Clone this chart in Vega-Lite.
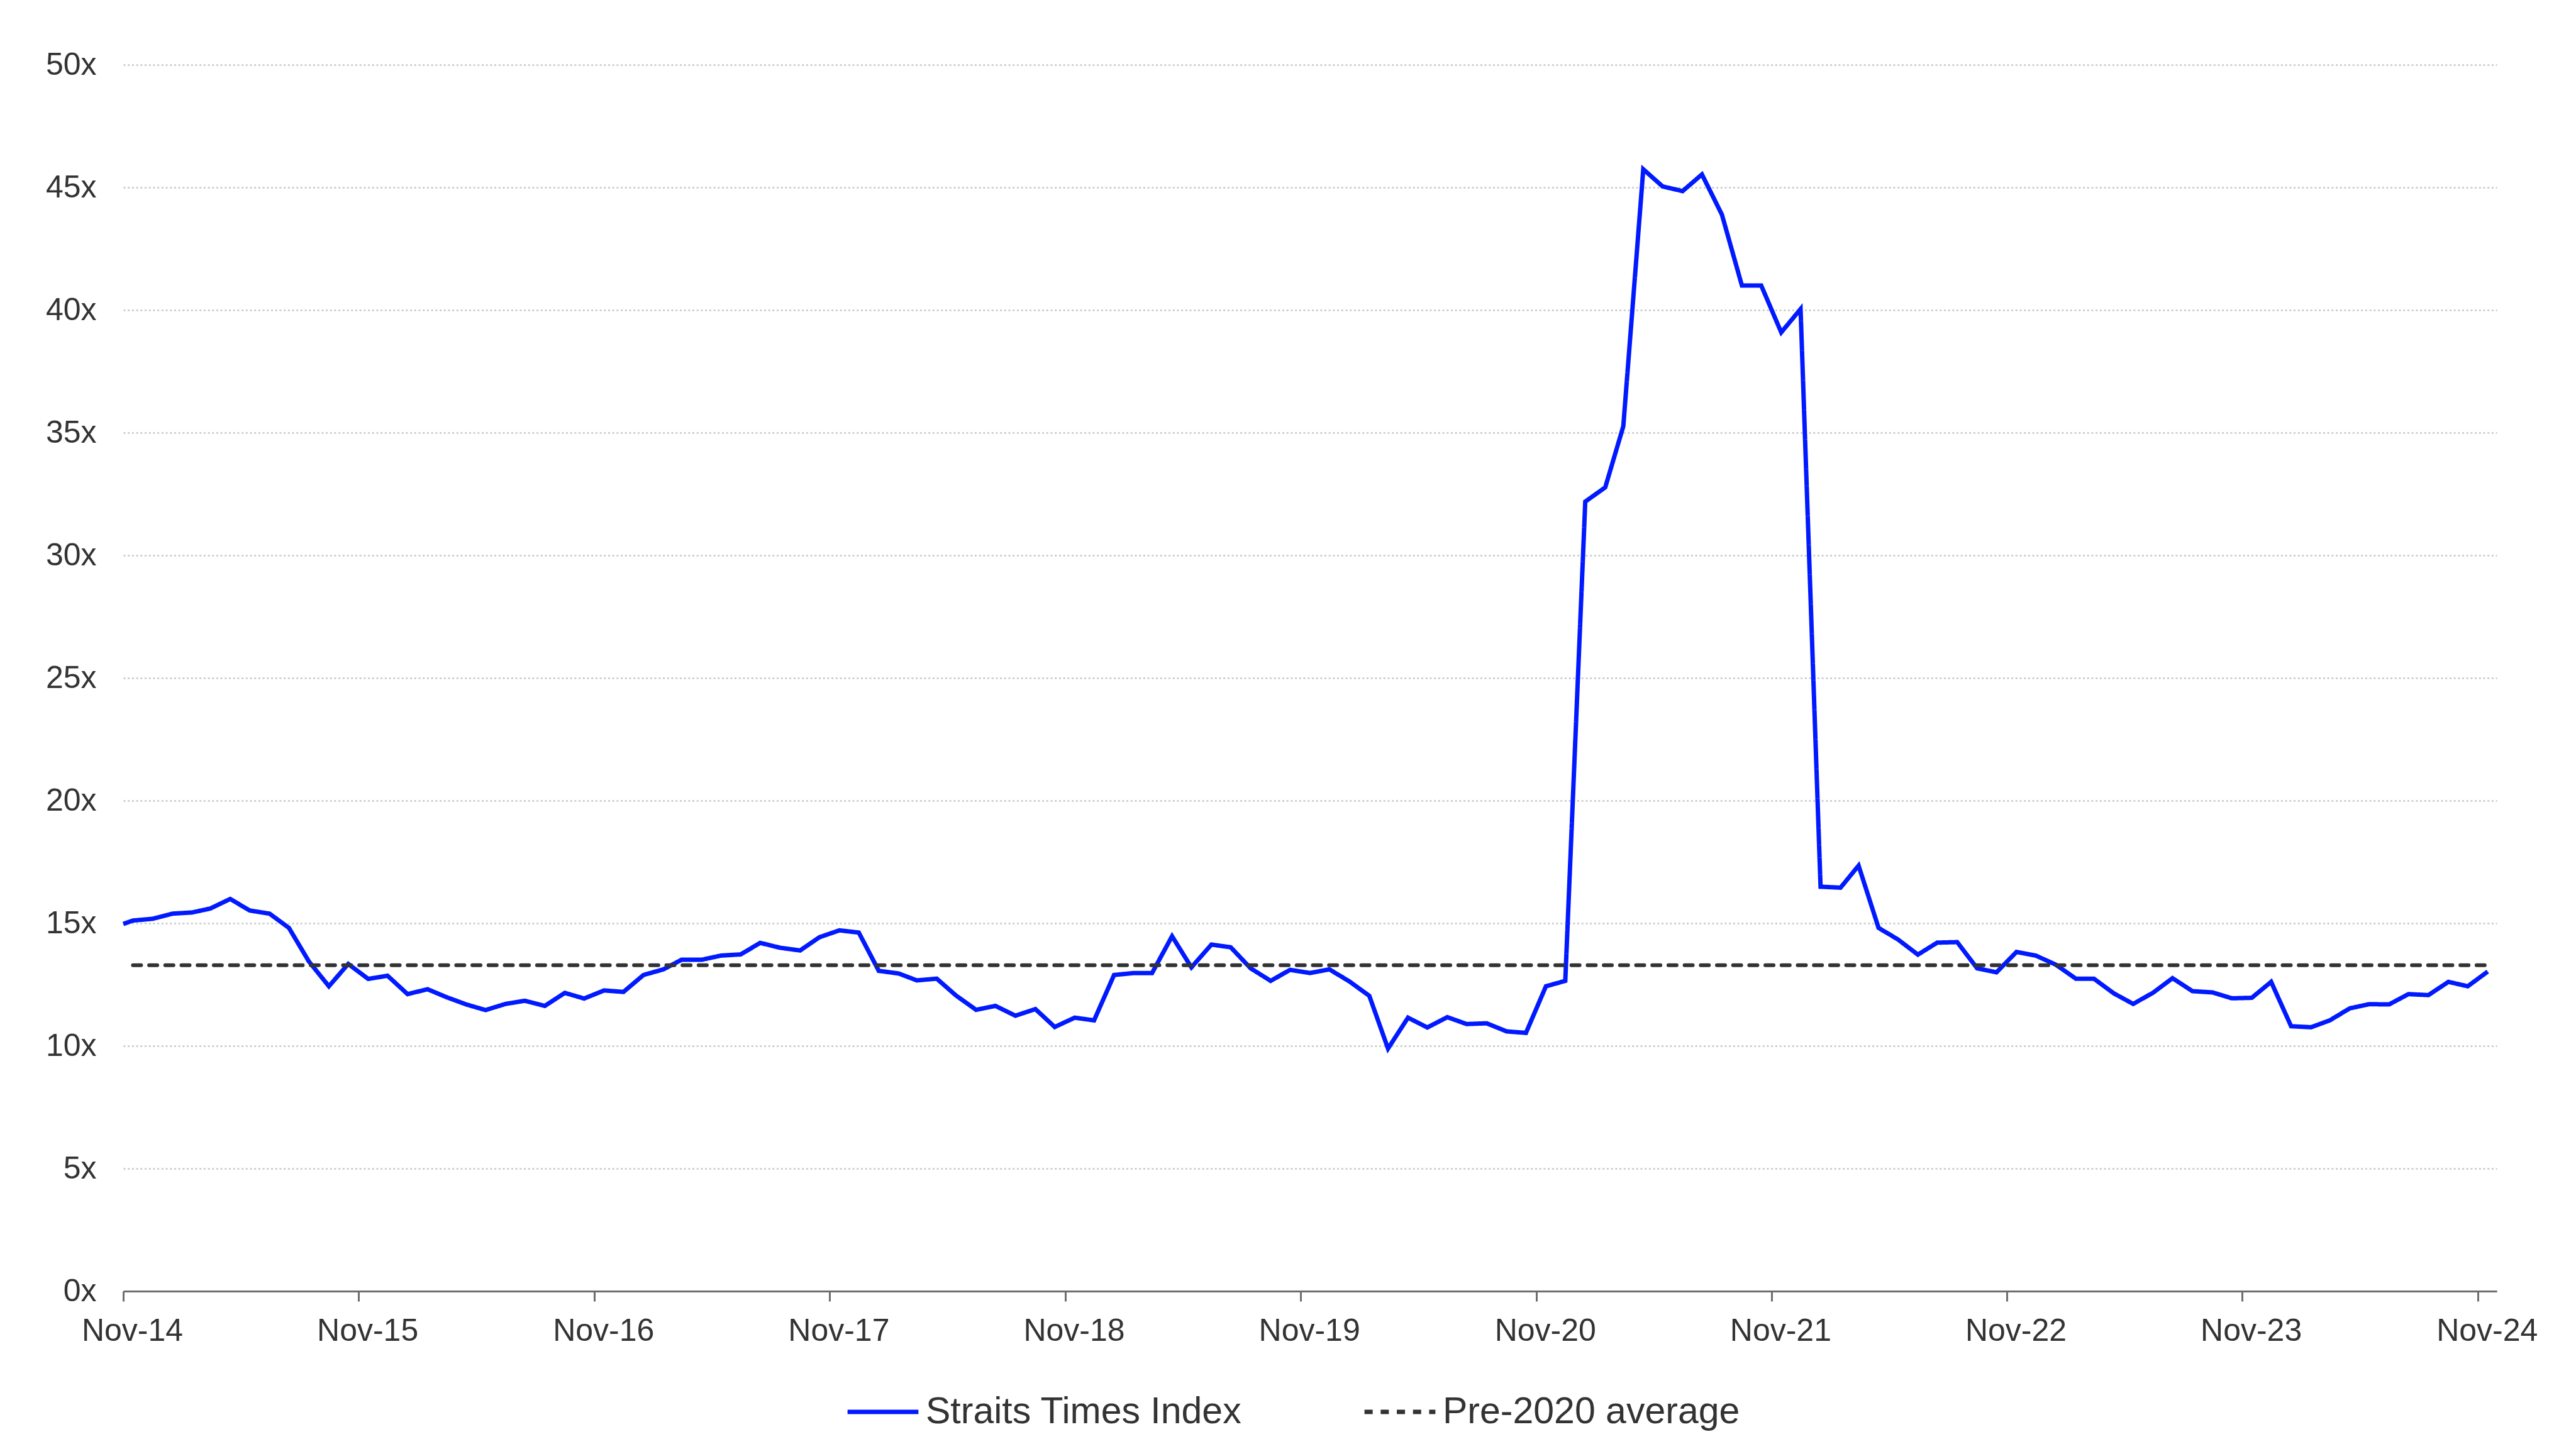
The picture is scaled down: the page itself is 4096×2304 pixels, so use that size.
{
  "$schema": "https://vega.github.io/schema/vega-lite/v6.json",
  "width": 3774,
  "height": 1950,
  "autosize": {"type": "none"},
  "padding": {"left": 196, "top": 103, "right": 126, "bottom": 251},
  "background": "white",
  "data": {
    "values": [
      {"d": "2014-11-01", "sti": 14.97},
      {"d": "2014-11-16", "sti": 15.11, "avg": 13.29},
      {"d": "2014-12-16", "sti": 15.18, "avg": 13.29},
      {"d": "2015-01-16", "sti": 15.39, "avg": 13.29},
      {"d": "2015-02-16", "sti": 15.44, "avg": 13.29},
      {"d": "2015-03-16", "sti": 15.60, "avg": 13.29},
      {"d": "2015-04-16", "sti": 15.99, "avg": 13.29},
      {"d": "2015-05-16", "sti": 15.52, "avg": 13.29},
      {"d": "2015-06-16", "sti": 15.39, "avg": 13.29},
      {"d": "2015-07-16", "sti": 14.81, "avg": 13.29},
      {"d": "2015-08-16", "sti": 13.44, "avg": 13.29},
      {"d": "2015-09-16", "sti": 12.43, "avg": 13.29},
      {"d": "2015-10-16", "sti": 13.34, "avg": 13.29},
      {"d": "2015-11-16", "sti": 12.73, "avg": 13.29},
      {"d": "2015-12-16", "sti": 12.86, "avg": 13.29},
      {"d": "2016-01-16", "sti": 12.11, "avg": 13.29},
      {"d": "2016-02-16", "sti": 12.31, "avg": 13.29},
      {"d": "2016-03-16", "sti": 11.99, "avg": 13.29},
      {"d": "2016-04-16", "sti": 11.69, "avg": 13.29},
      {"d": "2016-05-16", "sti": 11.46, "avg": 13.29},
      {"d": "2016-06-16", "sti": 11.71, "avg": 13.29},
      {"d": "2016-07-16", "sti": 11.84, "avg": 13.29},
      {"d": "2016-08-16", "sti": 11.63, "avg": 13.29},
      {"d": "2016-09-16", "sti": 12.16, "avg": 13.29},
      {"d": "2016-10-16", "sti": 11.93, "avg": 13.29},
      {"d": "2016-11-16", "sti": 12.26, "avg": 13.29},
      {"d": "2016-12-16", "sti": 12.20, "avg": 13.29},
      {"d": "2017-01-16", "sti": 12.89, "avg": 13.29},
      {"d": "2017-02-16", "sti": 13.12, "avg": 13.29},
      {"d": "2017-03-16", "sti": 13.51, "avg": 13.29},
      {"d": "2017-04-16", "sti": 13.51, "avg": 13.29},
      {"d": "2017-05-16", "sti": 13.68, "avg": 13.29},
      {"d": "2017-06-16", "sti": 13.73, "avg": 13.29},
      {"d": "2017-07-16", "sti": 14.20, "avg": 13.29},
      {"d": "2017-08-16", "sti": 14.00, "avg": 13.29},
      {"d": "2017-09-16", "sti": 13.89, "avg": 13.29},
      {"d": "2017-10-16", "sti": 14.43, "avg": 13.29},
      {"d": "2017-11-16", "sti": 14.71, "avg": 13.29},
      {"d": "2017-12-16", "sti": 14.62, "avg": 13.29},
      {"d": "2018-01-16", "sti": 13.06, "avg": 13.29},
      {"d": "2018-02-16", "sti": 12.95, "avg": 13.29},
      {"d": "2018-03-16", "sti": 12.67, "avg": 13.29},
      {"d": "2018-04-16", "sti": 12.74, "avg": 13.29},
      {"d": "2018-05-16", "sti": 12.05, "avg": 13.29},
      {"d": "2018-06-16", "sti": 11.47, "avg": 13.29},
      {"d": "2018-07-16", "sti": 11.63, "avg": 13.29},
      {"d": "2018-08-16", "sti": 11.23, "avg": 13.29},
      {"d": "2018-09-16", "sti": 11.50, "avg": 13.29},
      {"d": "2018-10-16", "sti": 10.77, "avg": 13.29},
      {"d": "2018-11-16", "sti": 11.15, "avg": 13.29},
      {"d": "2018-12-16", "sti": 11.04, "avg": 13.29},
      {"d": "2019-01-16", "sti": 12.89, "avg": 13.29},
      {"d": "2019-02-16", "sti": 12.97, "avg": 13.29},
      {"d": "2019-03-16", "sti": 12.97, "avg": 13.29},
      {"d": "2019-04-16", "sti": 14.47, "avg": 13.29},
      {"d": "2019-05-16", "sti": 13.20, "avg": 13.29},
      {"d": "2019-06-16", "sti": 14.13, "avg": 13.29},
      {"d": "2019-07-16", "sti": 14.02, "avg": 13.29},
      {"d": "2019-08-16", "sti": 13.16, "avg": 13.29},
      {"d": "2019-09-16", "sti": 12.65, "avg": 13.29},
      {"d": "2019-10-16", "sti": 13.10, "avg": 13.29},
      {"d": "2019-11-16", "sti": 12.97, "avg": 13.29},
      {"d": "2019-12-16", "sti": 13.12, "avg": 13.29},
      {"d": "2020-01-16", "sti": 12.63, "avg": 13.29},
      {"d": "2020-02-16", "sti": 12.04, "avg": 13.29},
      {"d": "2020-03-16", "sti": 9.89, "avg": 13.29},
      {"d": "2020-04-16", "sti": 11.15, "avg": 13.29},
      {"d": "2020-05-16", "sti": 10.75, "avg": 13.29},
      {"d": "2020-06-16", "sti": 11.17, "avg": 13.29},
      {"d": "2020-07-16", "sti": 10.89, "avg": 13.29},
      {"d": "2020-08-16", "sti": 10.92, "avg": 13.29},
      {"d": "2020-09-16", "sti": 10.59, "avg": 13.29},
      {"d": "2020-10-16", "sti": 10.53, "avg": 13.29},
      {"d": "2020-11-16", "sti": 12.43, "avg": 13.29},
      {"d": "2020-12-16", "sti": 12.65, "avg": 13.29},
      {"d": "2021-01-16", "sti": 32.19, "avg": 13.29},
      {"d": "2021-02-16", "sti": 32.77, "avg": 13.29},
      {"d": "2021-03-16", "sti": 35.26, "avg": 13.29},
      {"d": "2021-04-16", "sti": 45.74, "avg": 13.29},
      {"d": "2021-05-16", "sti": 45.04, "avg": 13.29},
      {"d": "2021-06-16", "sti": 44.85, "avg": 13.29},
      {"d": "2021-07-16", "sti": 45.53, "avg": 13.29},
      {"d": "2021-08-16", "sti": 43.89, "avg": 13.29},
      {"d": "2021-09-16", "sti": 41.00, "avg": 13.29},
      {"d": "2021-10-16", "sti": 41.00, "avg": 13.29},
      {"d": "2021-11-16", "sti": 39.09, "avg": 13.29},
      {"d": "2021-12-16", "sti": 40.04, "avg": 13.29},
      {"d": "2022-01-16", "sti": 16.49, "avg": 13.29},
      {"d": "2022-02-16", "sti": 16.45, "avg": 13.29},
      {"d": "2022-03-16", "sti": 17.35, "avg": 13.29},
      {"d": "2022-04-16", "sti": 14.81, "avg": 13.29},
      {"d": "2022-05-16", "sti": 14.34, "avg": 13.29},
      {"d": "2022-06-16", "sti": 13.72, "avg": 13.29},
      {"d": "2022-07-16", "sti": 14.21, "avg": 13.29},
      {"d": "2022-08-16", "sti": 14.23, "avg": 13.29},
      {"d": "2022-09-16", "sti": 13.16, "avg": 13.29},
      {"d": "2022-10-16", "sti": 13.00, "avg": 13.29},
      {"d": "2022-11-16", "sti": 13.83, "avg": 13.29},
      {"d": "2022-12-16", "sti": 13.68, "avg": 13.29},
      {"d": "2023-01-16", "sti": 13.31, "avg": 13.29},
      {"d": "2023-02-16", "sti": 12.74, "avg": 13.29},
      {"d": "2023-03-16", "sti": 12.74, "avg": 13.29},
      {"d": "2023-04-16", "sti": 12.14, "avg": 13.29},
      {"d": "2023-05-16", "sti": 11.71, "avg": 13.29},
      {"d": "2023-06-16", "sti": 12.17, "avg": 13.29},
      {"d": "2023-07-16", "sti": 12.76, "avg": 13.29},
      {"d": "2023-08-16", "sti": 12.23, "avg": 13.29},
      {"d": "2023-09-16", "sti": 12.18, "avg": 13.29},
      {"d": "2023-10-16", "sti": 11.94, "avg": 13.29},
      {"d": "2023-11-16", "sti": 11.96, "avg": 13.29},
      {"d": "2023-12-16", "sti": 12.61, "avg": 13.29},
      {"d": "2024-01-16", "sti": 10.80, "avg": 13.29},
      {"d": "2024-02-16", "sti": 10.76, "avg": 13.29},
      {"d": "2024-03-16", "sti": 11.04, "avg": 13.29},
      {"d": "2024-04-16", "sti": 11.53, "avg": 13.29},
      {"d": "2024-05-16", "sti": 11.70, "avg": 13.29},
      {"d": "2024-06-16", "sti": 11.69, "avg": 13.29},
      {"d": "2024-07-16", "sti": 12.11, "avg": 13.29},
      {"d": "2024-08-16", "sti": 12.07, "avg": 13.29},
      {"d": "2024-09-16", "sti": 12.61, "avg": 13.29},
      {"d": "2024-10-16", "sti": 12.43, "avg": 13.29},
      {"d": "2024-11-16", "sti": 13.03, "avg": 13.29}
    ]
  },
  "encoding": {
    "x": {
      "field": "d",
      "type": "temporal",
      "title": null,
      "scale": {
        "type": "utc",
        "domain": [
          {"year": 2014, "month": 11, "date": 1, "utc": true},
          {"year": 2024, "month": 11, "date": 30, "utc": true}
        ]
      },
      "axis": {
        "values": [
          {"year": 2014, "month": 11, "date": 1, "utc": true},
          {"year": 2015, "month": 11, "date": 1, "utc": true},
          {"year": 2016, "month": 11, "date": 1, "utc": true},
          {"year": 2017, "month": 11, "date": 1, "utc": true},
          {"year": 2018, "month": 11, "date": 1, "utc": true},
          {"year": 2019, "month": 11, "date": 1, "utc": true},
          {"year": 2020, "month": 11, "date": 1, "utc": true},
          {"year": 2021, "month": 11, "date": 1, "utc": true},
          {"year": 2022, "month": 11, "date": 1, "utc": true},
          {"year": 2023, "month": 11, "date": 1, "utc": true},
          {"year": 2024, "month": 11, "date": 1, "utc": true}
        ],
        "format": "%b-%y",
        "grid": false,
        "domainColor": "#6e6e6e",
        "domainWidth": 3,
        "tickColor": "#6e6e6e",
        "tickWidth": 3,
        "tickSize": 16,
        "labelPadding": 22,
        "labelOffset": 14,
        "labelFontSize": 50,
        "labelColor": "#333333",
        "labelFlush": false
      }
    }
  },
  "layer": [
    {
      "mark": {"type": "line", "strokeWidth": 7},
      "encoding": {
        "y": {
          "field": "sti",
          "type": "quantitative",
          "title": null,
          "scale": {"domain": [0, 50], "nice": false},
          "axis": {
            "values": [0, 5, 10, 15, 20, 25, 30, 35, 40, 45, 50],
            "labelExpr": "datum.value + 'x'",
            "domain": false,
            "ticks": false,
            "tickSize": 0,
            "labelPadding": 43,
            "labelFontSize": 50,
            "labelColor": "#333333",
            "gridColor": "#c8c8c8",
            "gridWidth": 2.5,
            "gridDash": [3, 3.7]
          }
        },
        "color": {
          "datum": "Straits Times Index",
          "scale": {
            "domain": ["Straits Times Index", "Pre-2020 average"],
            "range": ["#0019ff", "#333333"]
          },
          "legend": {
            "title": null,
            "orient": "none",
            "legendX": 1148,
            "legendY": 2082,
            "direction": "horizontal",
            "symbolType": "stroke",
            "symbolSize": 12700,
            "symbolStrokeWidth": 7,
            "labelFontSize": 59,
            "labelLimit": 2000,
            "labelColor": "#333333",
            "labelOffset": 8,
            "columnPadding": 180
          }
        },
        "strokeDash": {
          "datum": "Straits Times Index",
          "scale": {
            "domain": ["Straits Times Index", "Pre-2020 average"],
            "range": [[1, 0], [13, 12.7]]
          }
        }
      }
    },
    {
      "mark": {"type": "line", "strokeWidth": 6, "strokeCap": "round"},
      "encoding": {
        "y": {"field": "avg", "type": "quantitative"},
        "color": {"datum": "Pre-2020 average"},
        "strokeDash": {"datum": "Pre-2020 average"}
      }
    }
  ],
  "config": {
    "font": "Liberation Sans, Arial, sans-serif",
    "view": {"stroke": null}
  }
}
